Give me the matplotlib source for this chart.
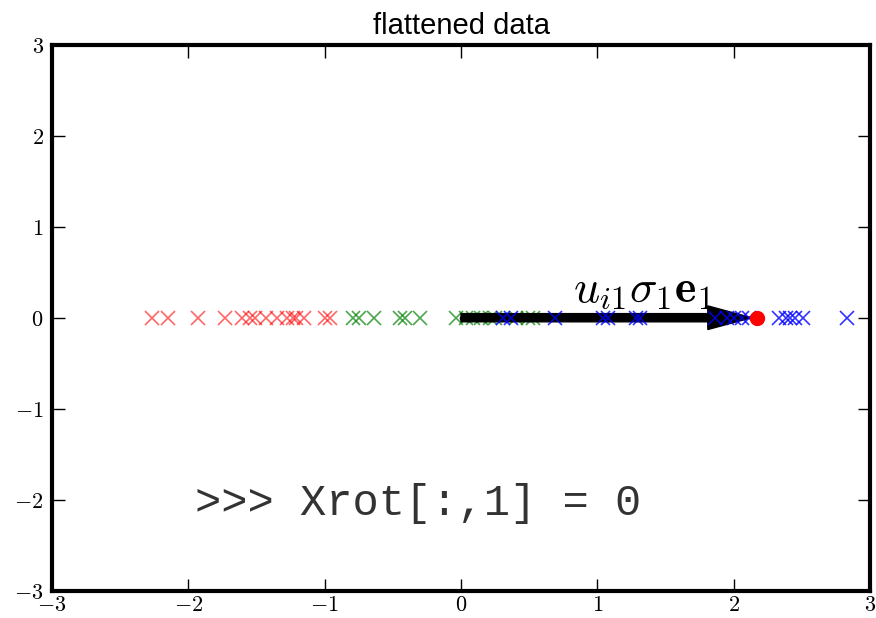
import matplotlib
matplotlib.use("Agg")
import matplotlib.pyplot as plt
import numpy as np

plt.rcParams['mathtext.fontset'] = 'cm'

# projected points (all on y = 0)
red_x = [-2.27, -2.15, -1.93, -1.73, -1.61, -1.55, -1.51, -1.43, -1.35,
         -1.28, -1.23, -1.21, -1.15, -1.00, -0.96]
green_x = [-0.79, -0.75, -0.64, -0.45, -0.41, -0.30, -0.04, 0.04, 0.09,
           0.15, 0.21, 0.25, 0.40, 0.49, 0.53]
blue_x = [0.31, 0.37, 0.69, 1.04, 1.08, 1.28, 1.31, 1.86, 1.95, 2.00,
          2.06, 2.11, 2.33, 2.38, 2.41, 2.45, 2.51, 2.83]
black_x = [0.01, 0.12, 0.23, 0.35, 0.45, 0.59]
arrow_len = 2.13
red_dot = 2.17
ticks = [-3, -2, -1, 0, 1, 2, 3]

fig = plt.figure(figsize=(8.76, 6.18), dpi=100)
ax = fig.add_axes([0.0594, 0.0442, 0.9338, 0.8834])

ax.plot(red_x, np.zeros(len(red_x)), 'x', color='r', alpha=0.6, ms=10, mew=1.2)
ax.plot(green_x, np.zeros(len(green_x)), 'x', color='g', alpha=0.7, ms=10, mew=1.2)
ax.plot(black_x, np.zeros(len(black_x)), 'k.', ms=6)
ax.arrow(0, 0, arrow_len, 0, width=0.09, head_width=0.26, head_length=0.32,
         length_includes_head=True, fc='k', ec='k', zorder=3)
ax.plot(blue_x, np.zeros(len(blue_x)), 'x', color='b', alpha=0.8, ms=10, mew=1.2, zorder=4)
ax.plot([red_dot], [0], 'o', color='r', ms=10, zorder=5)

ax.text(0.82, 0.17, r'$u_{i1}\sigma_1\mathbf{e}_1$', fontsize=33)
ax.text(-1.95, -2.17, '>>> Xrot[:,1] = 0', family='Liberation Mono',
        fontsize=31.5, color='#333333')

ax.set_xlim(-3, 3)
ax.set_ylim(-3, 3)
ax.set_xticks(ticks)
ax.set_yticks(ticks)
ax.set_xticklabels(['$%d$' % t for t in ticks])
ax.set_yticklabels(['$%d$' % t for t in ticks])
ax.tick_params(direction='in', length=9, width=1, labelsize=16,
               top=True, right=True)
ax.tick_params(axis='x', pad=3)
ax.tick_params(axis='y', pad=6)
for s in ax.spines.values():
    s.set_linewidth(3)
ax.set_title('flattened data', family='Liberation Sans', fontsize=21, pad=8)

fig.savefig('out.png', dpi=100)
